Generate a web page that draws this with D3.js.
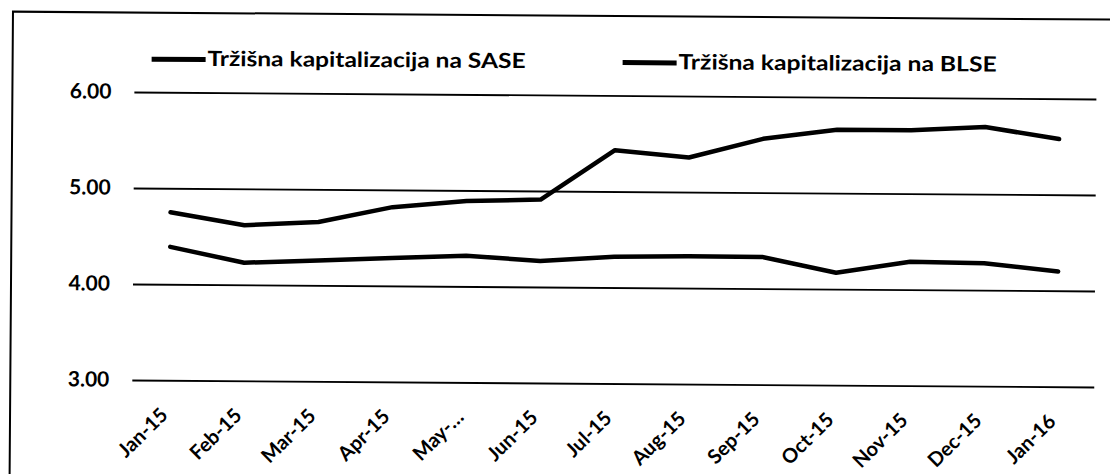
<!DOCTYPE html>
<html>
<head>
<meta charset="utf-8">
<script src="https://cdn.jsdelivr.net/npm/d3@7"></script>
<style>
  html, body { margin: 0; padding: 0; background: #fff; }
  svg { display: block; }
  text { font-family: Lato, "Open Sans", "DejaVu Sans", sans-serif; font-weight: 700; fill: #000; }
</style>
</head>
<body>
<svg id="chart" width="1110" height="474"></svg>
<script>
const categories = ["Jan-15","Feb-15","Mar-15","Apr-15","May-\u2026","Jun-15","Jul-15","Aug-15","Sep-15","Oct-15","Nov-15","Dec-15","Jan-16"];
const sase = [4.75, 4.62, 4.66, 4.82, 4.89, 4.91, 5.43, 5.36, 5.56, 5.66, 5.66, 5.70, 5.58];
const blse = [4.39, 4.23, 4.26, 4.29, 4.32, 4.27, 4.32, 4.33, 4.33, 4.17, 4.29, 4.28, 4.20];
const seriesNames = ["Tr\u017ei\u0161na kapitalizacija na SASE", "Tr\u017ei\u0161na kapitalizacija na BLSE"];
const yTicks = [3, 4, 5, 6];

const svg = d3.select("#chart");
const root = svg.append("g").attr("transform", "rotate(0.417,133,284)");

// frame (scanned chart border)
root.append("rect").attr("x", 11).attr("y", 12.5).attr("width", 1200).attr("height", 600)
  .attr("fill", "none").attr("stroke", "#000").attr("stroke-width", 2);

const x = d3.scaleBand().domain(categories).range([133, 1095]);
const y = d3.scaleLinear().domain([3, 6]).range([380, 92]);

// gridlines
const yAxis = d3.axisLeft(y).tickValues(yTicks).tickFormat(d3.format(".2f"))
  .tickSize(-(1095 - 133)).tickPadding(23);
const gy = root.append("g").attr("transform", "translate(133,0)").call(yAxis);
gy.select(".domain").remove();
gy.selectAll(".tick line").attr("stroke", "#000").attr("stroke-width", 1.8);
gy.selectAll(".tick text").attr("font-size", 21).attr("dy", "0.3em").attr("fill", "#000")
  .style("font-family", "Lato, sans-serif").style("font-weight", 700);

// x labels
const xAxis = d3.axisBottom(x).tickSize(0).tickPadding(0);
const gx = root.append("g").attr("transform", "translate(0,416)").call(xAxis);
gx.select(".domain").remove();
gx.selectAll(".tick text")
  .attr("font-size", 20).attr("text-anchor", "end").attr("dy", 0).attr("y", 0).attr("x", 0)
  .attr("transform", "rotate(-45)")
  .style("font-family", "Lato, sans-serif").style("font-weight", 700).attr("fill", "#000");

// lines
const line = d3.line().x((d, i) => x(categories[i]) + x.bandwidth() / 2).y(d => y(d));
[sase, blse].forEach(s => {
  root.append("path").datum(s).attr("d", line)
    .attr("fill", "none").attr("stroke", "#000").attr("stroke-width", 4.5)
    .attr("stroke-linejoin", "round").attr("stroke-linecap", "round");
});

// legend
const legendX = [150, 621];
seriesNames.forEach((name, i) => {
  const g = root.append("g").attr("transform", `translate(${legendX[i]},58)`);
  g.append("line").attr("x1", 0).attr("x2", 54).attr("y1", 1).attr("y2", 1)
    .attr("stroke", "#000").attr("stroke-width", 5);
  g.append("text").attr("x", 56).attr("y", 0).attr("dy", "0.35em")
    .attr("font-size", 21).attr("textLength", 318).attr("lengthAdjust", "spacingAndGlyphs")
    .text(name);
});
</script>
</body>
</html>
